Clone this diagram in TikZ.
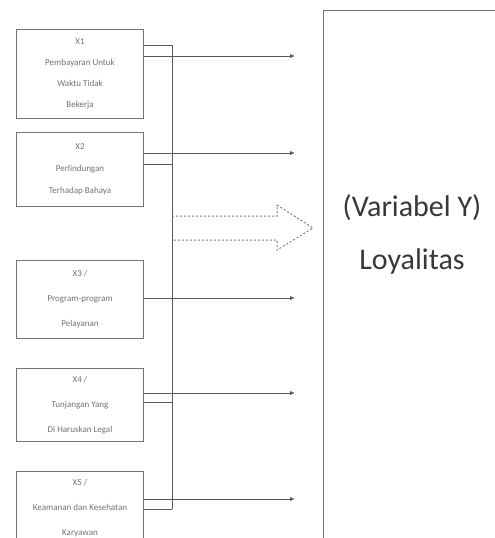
\documentclass[tikz,border=0pt]{standalone}
\usepackage{fontspec}
\setmainfont{Carlito}
\usetikzlibrary{arrows.meta}
\begin{document}
\begin{tikzpicture}[x=1pt,y=-1pt,
  lineclr/.style={draw=black!55, line width=1pt},
  xbox/.style={lineclr, fill=white, minimum width=127pt, inner sep=0pt, align=center, text=black!55, anchor=north west},
  conn/.style={draw=black!65, line width=1pt},
  arr/.style={conn, -{Latex[length=5pt,width=4.5pt]}},
  hollow/.style={draw=black!50, line width=1pt, dash pattern=on 2pt off 2pt},
]
\clip (0,0) rectangle (495,538);
\fill[white] (0,0) rectangle (495,538);

% independent variable boxes
\node[xbox, minimum height=89pt, font=\fontsize{9}{21}\selectfont] (b1) at (16,29) {X1\\Pembayaran Untuk\\Waktu Tidak\\Bekerja};
\node[xbox, minimum height=74pt, font=\fontsize{9}{22}\selectfont] (b2) at (16,132) {X2\\Perlindungan\\Terhadap Bahaya};
\node[xbox, minimum height=78pt, font=\fontsize{9}{25}\selectfont] (b3) at (16,260) {X3 /\\Program-program\\Pelayanan};
\node[xbox, minimum height=73pt, font=\fontsize{9}{25}\selectfont] (b4) at (16,368) {X4 /\\Tunjangan Yang\\Di Haruskan Legal};
\node[xbox, minimum height=74pt, font=\fontsize{9}{25}\selectfont] (b5) at (16,471) {X5 /\\Keamanan dan Kesehatan\\Karyawan};

% dependent variable box
\node[lineclr, fill=white, anchor=north west, minimum width=200pt, minimum height=560pt, inner sep=0pt] (yb) at (323,10) {};
\node[text=black!78, align=center, font=\fontsize{30}{53}\selectfont] (ylab) at (412,234) {(Variabel Y)\\Loyalitas};

% bus and arrow end points
\coordinate (bt) at (172,45);
\coordinate (bb) at (172,509);
\coordinate (t1) at (295,56);
\coordinate (t2) at (295,153);
\coordinate (t3) at (295,298);
\coordinate (t4) at (295,393);
\coordinate (t5) at (295,499);
\coordinate (u2) at (172,164);
\coordinate (u4) at (172,402);

\draw[conn] (bt) -- (bb);
\draw[conn] (b1.east |- bt) -- (bt);
\draw[conn] (b2.east |- u2) -- (u2);
\draw[conn] (b4.east |- u4) -- (u4);
\draw[conn] (b5.east |- bb) -- (bb);

\draw[arr] (b1.east |- t1) -- (t1);
\draw[arr] (b2.east |- t2) -- (t2);
\draw[arr] (b3.east |- t3) -- (t3);
\draw[arr] (b4.east |- t4) -- (t4);
\draw[arr] (b5.east |- t5) -- (t5);

% hollow dashed block arrow
\draw[hollow] (172,216) -- (277,216) -- (277,205) -- (313,228) -- (277,250) -- (277,240) -- (172,240);
\end{tikzpicture}
\end{document}
